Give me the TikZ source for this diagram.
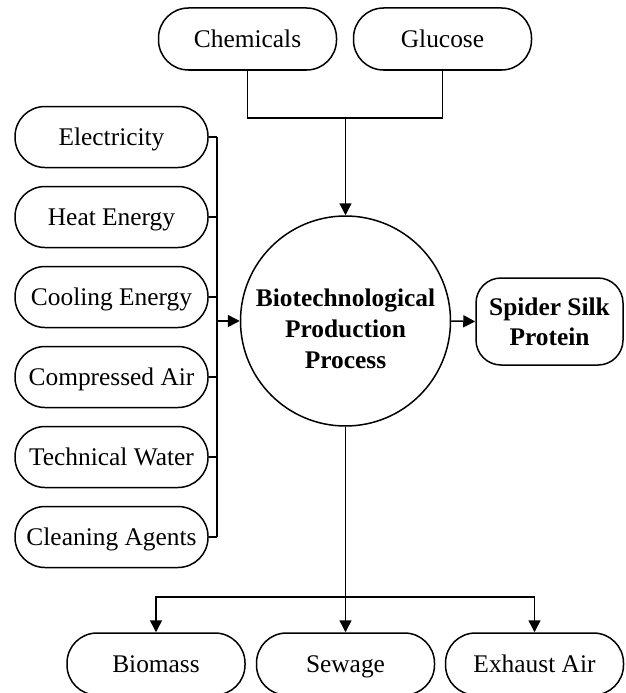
\documentclass[tikz,border=0pt]{standalone}
\usepackage{fontspec}
\setmainfont{Liberation Serif}
\usepackage{tikz}
\usetikzlibrary{positioning, arrows.meta}

\begin{document}
\begin{tikzpicture}[x=1pt, y=-1pt, line width=1.5pt,
    pill/.style={draw, rounded corners=30pt, minimum width=178pt, minimum height=62pt, inner sep=0pt, text height=17pt, text depth=0pt, font=\fontsize{25.4}{31}\selectfont},
    sidepill/.style={pill, minimum width=193pt, minimum height=61pt},
    arr/.style={-{Triangle[length=12pt, width=12pt]}}]
            \useasboundingbox (0, 0) rectangle (625, 693);

            % Feedstock
            \node (chem) [pill] at (247.5, 39) {Chemicals};
            \node (gluc) [pill] at (442.5, 39) {Glucose};

            % Utilities
            \node (elec) [sidepill] at (111.5, 137) {Electricity};
            \node (heat) [sidepill] at (111.5, 217) {Heat Energy};
            \node (cool) [sidepill] at (111.5, 297) {Cooling Energy};
            \node (air) [sidepill] at (111.5, 377) {Compressed Air};
            \node (water) [sidepill] at (111.5, 457) {Technical Water};
            \node (clean) [sidepill] at (111.5, 537) {Cleaning Agents};

            % Process
            \node (proc) [draw, circle, minimum size=210pt, inner sep=0pt, align=center, text height=95pt, font=\fontsize{25.4}{31}\selectfont\bfseries] at (345.5, 321) {Biotechnological\\Production\\Process};

            % Product
            \node (silk) [draw, rounded corners=25pt, minimum width=147pt, minimum height=87pt, inner sep=0pt, align=center, font=\fontsize{25.4}{30}\selectfont\bfseries] at (549.5, 321.5) {Spider Silk\\Protein};

            % Outputs
            \node (bio) [pill] at (156, 664) {Biomass};
            \node (sew) [pill] at (345.5, 664) {Sewage};
            \node (exh) [pill] at (534.5, 664) {Exhaust Air};

            % Join points
            \coordinate (topjoin) at (345.5, 118);
            \coordinate (bus) at (217, 321);
            \coordinate (botjoin) at (345.5, 597);

            % Feedstock lines
            \draw (chem.south) |- (topjoin) -| (gluc.south);
            \draw[arr] (topjoin) -- (proc.north);

            % Utility bus
            \draw (elec.east) -- (elec.east -| bus);
            \draw (heat.east) -- (heat.east -| bus);
            \draw (cool.east) -- (cool.east -| bus);
            \draw (air.east) -- (air.east -| bus);
            \draw (water.east) -- (water.east -| bus);
            \draw (clean.east) -- (clean.east -| bus);
            \draw (elec.east -| bus) -- (clean.east -| bus);
            \draw[arr] (bus) -- (proc.west);

            % Product arrow
            \draw[arr] (proc.east) -- (silk.west);

            % Output lines
            \draw[arr] (proc.south) -- (sew.north);
            \draw[arr] (botjoin) -| (bio.north);
            \draw[arr] (botjoin) -| (exh.north);

        \end{tikzpicture}
\end{document}
